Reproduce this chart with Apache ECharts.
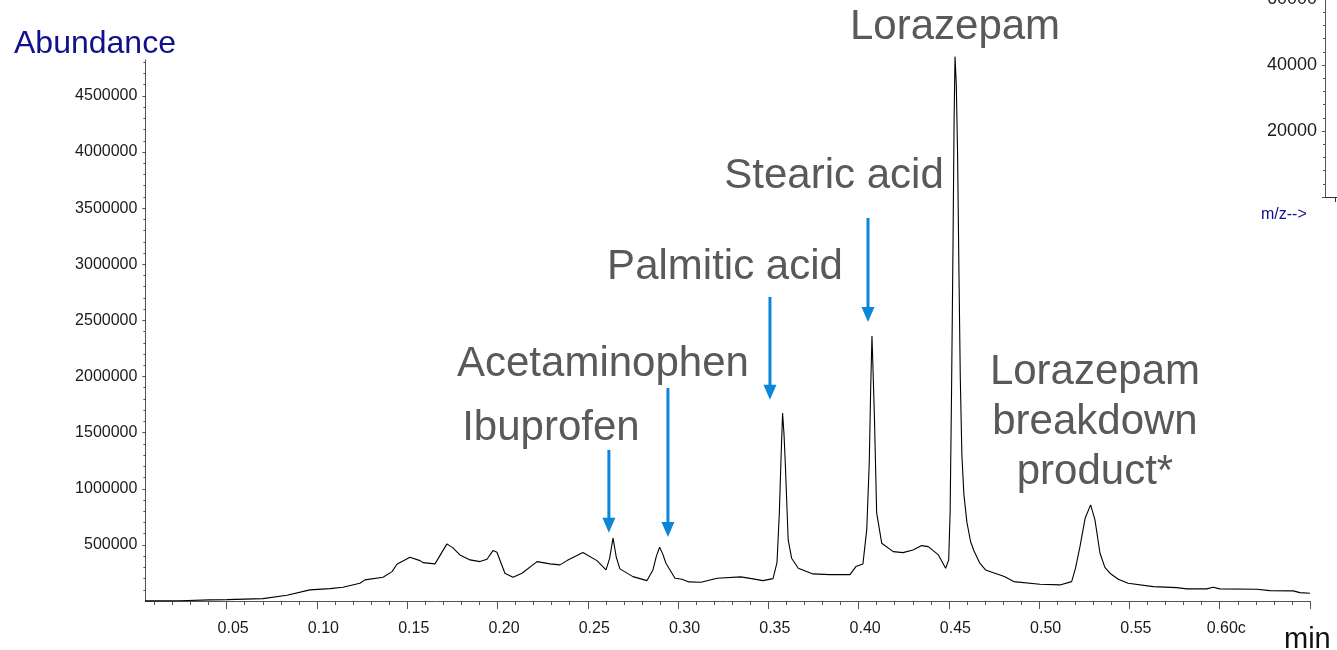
<!DOCTYPE html>
<html>
<head>
<meta charset="utf-8">
<script src="https://cdn.jsdelivr.net/npm/echarts@6/dist/echarts.min.js"></script>
<style>
  html, body { margin: 0; padding: 0; background: #fff; }
  #chart { width: 1337px; height: 650px; }
</style>
</head>
<body>
<div id="chart"></div>
<script>
// Total ion chromatogram: retention time (min) and abundance
const retentionTime = [
  0.0048, 0.0241, 0.0408, 0.0502, 0.0701, 0.0834, 0.0961, 0.1072, 0.1144, 0.1238,
  0.1266, 0.1366, 0.1416, 0.1443, 0.1515, 0.1571, 0.1587, 0.1654, 0.1720, 0.1753,
  0.1792, 0.1848, 0.1903, 0.1942, 0.1975, 0.1997, 0.2041, 0.2086, 0.2136, 0.2219,
  0.2291, 0.2346, 0.2385, 0.2473, 0.2551, 0.2601, 0.2621, 0.2640, 0.2658, 0.2678,
  0.2750, 0.2828, 0.2861, 0.2880, 0.2898, 0.2915, 0.2933, 0.2983, 0.3022, 0.3060,
  0.3127, 0.3216, 0.3348, 0.3415, 0.3470, 0.3526, 0.3548, 0.3561, 0.3571, 0.3579,
  0.3587, 0.3594, 0.3610, 0.3629, 0.3666, 0.3747, 0.3841, 0.3952, 0.3985, 0.4024,
  0.4045, 0.4059, 0.4067, 0.4074, 0.4081, 0.4088, 0.4100, 0.4128, 0.4192, 0.4246,
  0.4301, 0.4349, 0.4386, 0.4442, 0.4482, 0.4499, 0.4507, 0.4515, 0.4523, 0.4529,
  0.4534, 0.4541, 0.4548, 0.4556, 0.4563, 0.4572, 0.4583, 0.4600, 0.4620, 0.4638,
  0.4670, 0.4703, 0.4807, 0.4859, 0.5004, 0.5115, 0.5180, 0.5201, 0.5226, 0.5255,
  0.5285, 0.5309, 0.5337, 0.5364, 0.5392, 0.5438, 0.5493, 0.5632, 0.5762, 0.5817,
  0.5928, 0.5964, 0.6001, 0.6205, 0.6278, 0.6407, 0.6444, 0.6500
];
const abundance = [
  1000, 2700, 9800, 12500, 21400, 51700, 98900, 110500, 122900, 158600,
  188000, 212000, 261900, 327800, 390200, 359900, 342100, 330500, 508700, 473000,
  410700, 366100, 351000, 372400, 449000, 434700, 247700, 212000, 247700, 351000,
  330500, 321600, 359900, 431200, 359900, 277100, 380000, 559500, 390000, 286000,
  217400, 181700, 277100, 400000, 479300, 420000, 336700, 203100, 194200, 170200,
  167500, 203100, 214700, 196900, 181700, 199600, 342100, 782200, 1300000, 1675700,
  1480000, 1227600, 544300, 381300, 292200, 241400, 235200, 235200, 306500, 330500,
  633400, 1230300, 1900000, 2361700, 2000000, 1613400, 784900, 514900, 440100, 431200,
  455200, 493500, 484600, 410700, 292200, 366100, 800000, 1900000, 3200000, 4300000,
  4849900, 4600000, 4000000, 2900000, 2000000, 1300000, 950000, 700000, 530000, 450000,
  340000, 277100, 217400, 172800, 149700, 143400, 172800, 290000, 484600, 740000,
  856100, 722500, 425800, 300000, 247700, 194000, 158600, 128300, 119400, 107800,
  107800, 122900, 107800, 105100, 92700, 90000, 74800, 69500
];

// Axis ticks and labels
const xTickValues = [0.05, 0.10, 0.15, 0.20, 0.25, 0.30, 0.35, 0.40, 0.45, 0.50, 0.55, 0.60];
const xTickLabels = ['0.05', '0.10', '0.15', '0.20', '0.25', '0.30', '0.35', '0.40', '0.45', '0.50', '0.55', '0.60c'];
const yTickValues = [500000, 1000000, 1500000, 2000000, 2500000, 3000000, 3500000, 4000000, 4500000];
const insetTickValues = [20000, 40000, 60000];

// Peak annotations (positions in data units)
const peakNames = ['Ibuprofen', 'Acetaminophen', 'Palmitic acid', 'Stearic acid', 'Lorazepam', 'Lorazepam\nbreakdown\nproduct*'];
const peakLabelTime = [0.2296, 0.2584, 0.3260, 0.3864, 0.4534, 0.5309];
const peakLabelAbundance = [1542000, 2112000, 2968000, 3787000, 5106000, 1587000];
const arrowTime = [0.2617, 0.2944, 0.3509, 0.4052];
const arrowFrom = [1346000, 1898000, 2709000, 3413000];
const arrowTo = [607000, 571000, 1792000, 2486000];

const FONT = '"Liberation Sans", Arial, Helvetica, sans-serif';
const AXIS_COLOR = '#555';
const ARROW_COLOR = '#0b86d8';
const NOTE_COLOR = '#58595b';
const NAVY = '#10108c';

const minorX = [];
for (let k = 1; k <= 65; k++) if (k % 5) minorX.push(k / 100);
const majorX = xTickValues.concat([0.65]);
const minorY = [];
for (let k = 1; k <= 48; k++) if (k % 5) minorY.push(k * 100000);

const plain = v => String(Math.round(v));

const chart = echarts.init(document.getElementById('chart'), null, { renderer: 'canvas' });

chart.setOption({
  animation: false,
  grid: [
    { left: 145.4, right: 27, top: 60, bottom: 49, outerBoundsMode: 'none', containLabel: false },
    { left: 1325, top: -1, width: 100, height: 198, outerBoundsMode: 'none', containLabel: false }
  ],
  xAxis: [
    {
      type: 'value', gridIndex: 0, min: 0.005, max: 0.65, position: 'bottom',
      axisLine: { show: true, lineStyle: { color: AXIS_COLOR, width: 1 } },
      axisTick: { show: true, customValues: minorX, length: 4, lineStyle: { color: AXIS_COLOR } },
      axisLabel: {
        customValues: xTickValues,
        formatter: function (v) {
          const i = xTickValues.findIndex(t => Math.abs(t - v) < 1e-9);
          return i >= 0 ? xTickLabels[i] : '';
        },
        margin: 20, fontSize: 16, color: '#1a1a1a', fontFamily: FONT,
        padding: [0, 0, 0, 13]
      },
      splitLine: { show: false }
    },
    {
      type: 'value', gridIndex: 0, min: 0.005, max: 0.65, position: 'bottom',
      axisLine: { show: false },
      axisTick: { show: true, customValues: majorX, length: 8, lineStyle: { color: AXIS_COLOR } },
      axisLabel: { show: false },
      splitLine: { show: false }
    },
    {
      type: 'value', gridIndex: 1, min: 0, max: 100, position: 'bottom',
      axisLine: { show: true, lineStyle: { color: '#333', width: 1 } },
      axisTick: { show: true, customValues: [10], length: 5, lineStyle: { color: '#333' } },
      axisLabel: { show: false },
      splitLine: { show: false }
    }
  ],
  yAxis: [
    {
      type: 'value', gridIndex: 0, min: 0, max: 4820000, position: 'left',
      axisLine: { show: true, lineStyle: { color: AXIS_COLOR, width: 1 } },
      axisTick: { show: true, customValues: yTickValues, length: 3, lineStyle: { color: AXIS_COLOR } },
      axisLabel: { customValues: yTickValues, formatter: plain, margin: 8, fontSize: 16, color: '#1a1a1a', fontFamily: FONT },
      splitLine: { show: false }
    },
    {
      type: 'value', gridIndex: 0, min: 0, max: 4820000, position: 'left',
      axisLine: { show: false },
      axisTick: { show: true, customValues: minorY, length: 2, lineStyle: { color: AXIS_COLOR } },
      axisLabel: { show: false },
      splitLine: { show: false }
    },
    {
      type: 'value', gridIndex: 1, min: 0, max: 60000, interval: 20000, position: 'left',
      axisLine: { show: true, lineStyle: { color: AXIS_COLOR, width: 1 } },
      axisTick: { show: true, length: 3, lineStyle: { color: AXIS_COLOR } },
      minorTick: { show: true, splitNumber: 5, length: 2, lineStyle: { color: AXIS_COLOR } },
      axisLabel: { customValues: insetTickValues, formatter: plain, margin: 8, fontSize: 18, color: '#1a1a1a', fontFamily: FONT },
      splitLine: { show: false },
      minorSplitLine: { show: false }
    }
  ],
  series: [
    {
      type: 'line',
      xAxisIndex: 0, yAxisIndex: 0,
      data: retentionTime.map((t, i) => [t, abundance[i]]),
      showSymbol: false, symbol: 'none',
      clip: false,
      lineStyle: { color: '#000', width: 1.1 }
    }
  ]
});

// Annotations placed through the chart's own coordinate conversion
const toPx = (t, a) => chart.convertToPixel({ seriesIndex: 0 }, [t, a]);
const graphics = [];

peakNames.forEach((name, i) => {
  const p = toPx(peakLabelTime[i], peakLabelAbundance[i]);
  graphics.push({
    type: 'text', x: p[0], y: p[1], silent: true,
    style: {
      text: name, fill: NOTE_COLOR, fontSize: 42, fontFamily: FONT,
      align: 'center', verticalAlign: 'middle', lineHeight: 50
    }
  });
});

arrowTime.forEach((t, i) => {
  const a = toPx(t, arrowFrom[i]);
  const b = toPx(t, arrowTo[i]);
  const head = 15, half = 6.5;
  graphics.push({
    type: 'line', silent: true,
    shape: { x1: a[0], y1: a[1], x2: b[0], y2: b[1] - head + 2 },
    style: { stroke: ARROW_COLOR, lineWidth: 3 }
  });
  graphics.push({
    type: 'polygon', silent: true,
    shape: { points: [[b[0] - half, b[1] - head], [b[0] + half, b[1] - head], [b[0], b[1]]] },
    style: { fill: ARROW_COLOR }
  });
});

graphics.push({
  type: 'text', x: 14, y: 44, silent: true,
  style: { text: 'Abundance', fill: NAVY, fontSize: 32, fontFamily: FONT, align: 'left', verticalAlign: 'middle' }
});
graphics.push({
  type: 'text', x: 1284, y: 640, silent: true,
  style: { text: 'min', fill: '#111', fontSize: 29, fontFamily: FONT, align: 'left', verticalAlign: 'middle' }
});
graphics.push({
  type: 'text', x: 1261, y: 215, silent: true,
  style: { text: 'm/z-->', fill: NAVY, fontSize: 16, fontFamily: FONT, align: 'left', verticalAlign: 'middle' }
});

chart.setOption({ graphic: graphics });
</script>
</body>
</html>
